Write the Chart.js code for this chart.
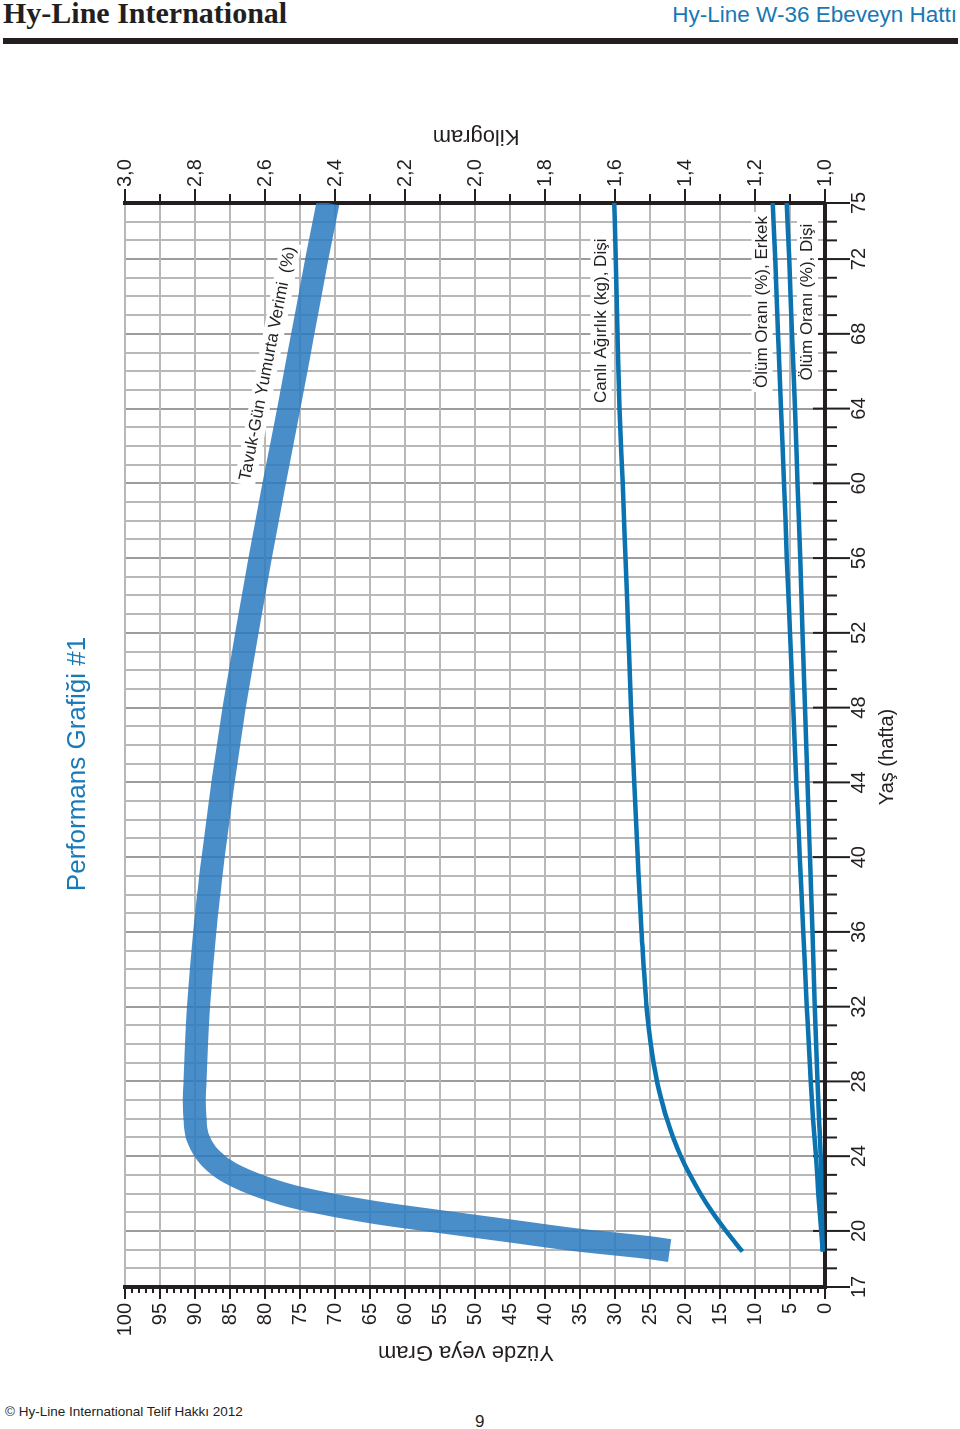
<!DOCTYPE html>
<html lang="tr">
<head>
<meta charset="utf-8">
<title>Performans Grafiği #1</title>
<script src="https://cdn.jsdelivr.net/npm/chart.js@4.4.1/dist/chart.umd.min.js"></script>
<style>
  html, body { margin: 0; padding: 0; background: #fff; }
  body { width: 960px; height: 1429px; position: relative; overflow: hidden;
         font-family: "Liberation Sans", Arial, sans-serif; color: #231f20; }
  .brand { position: absolute; left: 3px; top: -2px; line-height: 1; white-space: nowrap;
           font-family: "Liberation Serif", "Times New Roman", serif; font-weight: bold; font-size: 30px; }
  .line-name { position: absolute; right: 3px; top: 4px; line-height: 1; white-space: nowrap;
               font-size: 22.5px; color: #1878b4; }
  .rule { position: absolute; left: 3px; top: 38px; width: 955px; height: 6px; background: #231f20; }
  /* chart is drawn upright, then turned a quarter turn to the left like the printed page */
  .chart-box { position: absolute; left: -160px; top: 300px; width: 1280px; height: 880px;
               transform: rotate(-90deg); }
  .copy { position: absolute; left: 5px; top: 1405px; line-height: 1; font-size: 13.5px; white-space: nowrap; }
  .page-no { position: absolute; left: 475px; top: 1413px; line-height: 1; font-size: 17px; }
</style>
</head>
<body>
<div class="brand">Hy-Line International</div>
<div class="line-name">Hy-Line W-36 Ebeveyn Hattı</div>
<div class="rule"></div>

<div class="chart-box"><canvas id="perfChart" width="1280" height="880"></canvas></div>

<div class="copy">© Hy-Line International Telif Hakkı 2012</div>
<div class="page-no">9</div>

<script>
// --- data ---
const eggAge = [18.95, 19.1, 19.5, 20.0, 20.5, 21.0, 21.75, 22.3, 23.1, 23.9, 25, 26, 27, 28, 30, 32,
                36, 40, 44, 48, 52, 56, 60, 64, 68, 72, 75];
const eggPct = [22.2, 25, 35, 45, 55, 64.5, 75, 80, 85, 87.8, 89.6, 90.0, 90.1, 90.0, 89.8, 89.5,
                88.6, 87.4, 86.0, 84.4, 82.6, 80.7, 78.7, 76.6, 74.6, 72.6, 71.0];

const bwAge = [18.9, 20, 21, 22, 23, 24, 25, 26, 27, 28, 30, 32, 36, 40, 44, 48, 52, 56, 60, 64, 68, 72, 75];
const bwKg  = [1.236, 1.283, 1.322, 1.356, 1.386, 1.412, 1.434, 1.452, 1.467, 1.480, 1.498, 1.510, 1.524,
               1.535, 1.545, 1.554, 1.562, 1.570, 1.578, 1.587, 1.593, 1.598, 1.602];

const mortAge    = [18.9, 20, 22, 24, 26, 28, 32, 36, 40, 44, 48, 52, 56, 60, 64, 68, 72, 75];
const mortMale   = [0.33, 0.55, 0.95, 1.3, 1.7, 2.05, 2.6, 3.1, 3.6, 4.1, 4.55, 5.0, 5.45, 5.85, 6.29, 6.7, 7.1, 7.47];
const mortFemale = [0.33, 0.4, 0.5, 0.62, 0.85, 1.07, 1.45, 1.8, 2.15, 2.5, 2.85, 3.2, 3.55, 3.92, 4.29, 4.72, 5.1, 5.47];

const ageTickLabels = [17, 20, 24, 28, 32, 36, 40, 44, 48, 52, 56, 60, 64, 68, 72, 75];

const INK = '#231f20';
const LINE_BLUE = 'rgb(10,115,176)';
const BAND_BLUE = 'rgba(42,122,192,0.85)';
const FONT = '"Liberation Sans", Arial, sans-serif';

Chart.defaults.font.family = FONT;
Chart.defaults.color = INK;

function pairs(xs, ys) {
  return xs.map((x, i) => ({ x: x, y: ys[i] }));
}

// tick marks of all three axes (short minor, long major)
const axisTicks = {
  id: 'axisTicks',
  beforeDatasetsDraw(chart) {
    const { ctx, chartArea: a, scales } = chart;
    ctx.save();
    ctx.strokeStyle = INK;
    ctx.lineWidth = 2;
    ctx.beginPath();
    for (let w = 17; w <= 75; w++) {
      const px = scales.x.getPixelForValue(w);
      const major = ageTickLabels.includes(w);
      ctx.moveTo(px, a.bottom - (major ? 12 : 0));
      ctx.lineTo(px, a.bottom + (major ? 25 : 12));
    }
    for (let p = 0; p <= 100; p++) {
      const py = scales.y.getPixelForValue(p);
      ctx.moveTo(a.left, py);
      ctx.lineTo(a.left - (p % 5 === 0 ? 12 : 6), py);
    }
    for (let k = 10; k <= 30; k++) {
      const py = scales.y1.getPixelForValue(k / 10);
      ctx.moveTo(a.right, py);
      ctx.lineTo(a.right + (k % 2 === 0 ? 14 : 9), py);
    }
    ctx.stroke();
    ctx.restore();
  }
};

// titles, axis names and the curve captions
const captions = {
  id: 'captions',
  beforeDatasetsDraw(chart) {
    const { ctx, scales } = chart;
    const { x, y, y1 } = scales;

    function label(text, px, py, size, angle, boxed, color) {
      ctx.save();
      ctx.translate(px, py);
      ctx.rotate(angle * Math.PI / 180);
      ctx.font = size + 'px ' + FONT;
      ctx.textAlign = 'center';
      ctx.textBaseline = 'middle';
      if (boxed) {
        const w = ctx.measureText(text).width;
        ctx.fillStyle = '#fff';
        ctx.fillRect(-w / 2 - 4, -size * 0.62, w + 8, size * 1.24);
      }
      ctx.fillStyle = color || INK;
      ctx.fillText(text, 0, 0);
      ctx.restore();
    }

    label('Performans Grafiği #1', 616, 38, 26, 0, false, '#1a7ab8');
    label('Yaş (hafta)', 623, 847, 20, 0, false);
    label('Yüzde veya Gram', 28, 426, 22, -90, false);
    label('Kilogram', 1244, 436, 22, -90, false);

    label('Tavuk-Gün Yumurta Verimi  (%)', x.getPixelForValue(66.4), y.getPixelForValue(79.6), 17, 11, true);
    label('Canlı Ağırlık (kg), Dişi', x.getPixelForValue(68.7), y1.getPixelForValue(1.64), 17, 0, true);
    label('Ölüm Oranı (%), Erkek', x.getPixelForValue(69.7), y.getPixelForValue(9.0), 17, 0, true);
    label('Ölüm Oranı (%), Dişi', x.getPixelForValue(69.7), y.getPixelForValue(2.5), 17, 0, true);
  }
};

const ctx = document.getElementById('perfChart').getContext('2d');
new Chart(ctx, {
  type: 'line',
  data: {
    datasets: [
      {
        label: 'Tavuk-Gün Yumurta Verimi (%)',
        data: pairs(eggAge, eggPct),
        yAxisID: 'y',
        borderColor: BAND_BLUE,
        borderWidth: 23,
        borderCapStyle: 'butt',
        pointRadius: 0,
        cubicInterpolationMode: 'monotone'
      },
      {
        label: 'Canlı Ağırlık (kg), Dişi',
        data: pairs(bwAge, bwKg),
        yAxisID: 'y1',
        borderColor: LINE_BLUE,
        borderWidth: 4.5,
        pointRadius: 0,
        cubicInterpolationMode: 'monotone'
      },
      {
        label: 'Ölüm Oranı (%), Erkek',
        data: pairs(mortAge, mortMale),
        yAxisID: 'y',
        borderColor: LINE_BLUE,
        borderWidth: 4.5,
        pointRadius: 0,
        cubicInterpolationMode: 'monotone'
      },
      {
        label: 'Ölüm Oranı (%), Dişi',
        data: pairs(mortAge, mortFemale),
        yAxisID: 'y',
        borderColor: LINE_BLUE,
        borderWidth: 4.5,
        pointRadius: 0,
        cubicInterpolationMode: 'monotone'
      }
    ]
  },
  options: {
    responsive: false,
    animation: false,
    layout: { padding: { top: 85, left: 0, right: 0, bottom: 0 } },
    plugins: { legend: { display: false }, tooltip: { enabled: false } },
    scales: {
      x: {
        type: 'linear',
        position: 'bottom',
        min: 17,
        max: 75,
        afterBuildTicks: s => {
          const t = [];
          for (let w = 17; w <= 75; w++) t.push({ value: w });
          s.ticks = t;
        },
        afterFit: s => { s.height = 95; },
        ticks: {
          autoSkip: false,
          maxRotation: 0,
          padding: 22,
          font: { size: 20 },
          callback: v => ageTickLabels.includes(v) ? String(v) : ''
        },
        grid: {
          drawTicks: false,
          lineWidth: 2,
          color: c => (c.tick && ageTickLabels.includes(c.tick.value)) ? '#9c9c9c' : '#b8b8b8'
        },
        border: { color: INK, width: 4 }
      },
      y: {
        position: 'left',
        min: 0,
        max: 100,
        afterBuildTicks: s => {
          const t = [];
          for (let p = 0; p <= 100; p += 5) t.push({ value: p });
          s.ticks = t;
        },
        afterFit: s => { s.width = 93; },
        ticks: { padding: 16, font: { size: 20 } },
        grid: { drawTicks: false, lineWidth: 2, color: '#b8b8b8' },
        border: { color: INK, width: 4 }
      },
      y1: {
        position: 'right',
        min: 1,
        max: 3,
        afterBuildTicks: s => {
          const t = [];
          for (let k = 10; k <= 30; k += 2) t.push({ value: k / 10 });
          s.ticks = t;
        },
        afterFit: s => { s.width = 103; },
        ticks: {
          padding: 16,
          font: { size: 20 },
          callback: v => v.toFixed(1).replace('.', ',')
        },
        grid: { drawOnChartArea: false, drawTicks: false },
        border: { color: INK, width: 4 }
      }
    }
  },
  plugins: [axisTicks, captions]
});
</script>
</body>
</html>
